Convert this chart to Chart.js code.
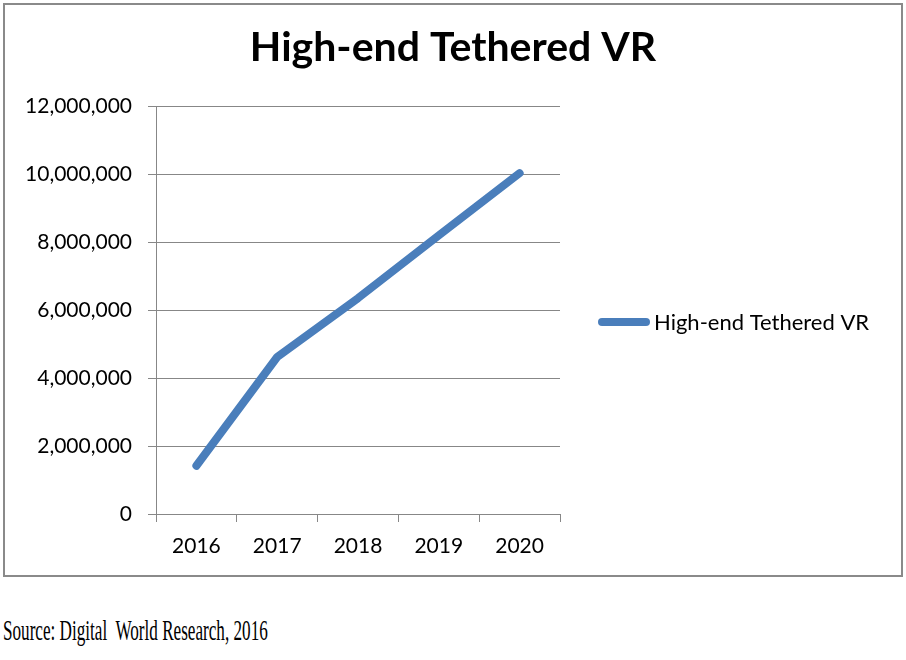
<!DOCTYPE html>
<html>
<head>
    <title>High-end Tethered VR</title>
    <meta charset="utf-8">
    <script src="https://cdn.jsdelivr.net/npm/chart.js@4.4.0/dist/chart.umd.min.js"></script>
    <style>
        body { margin: 0; background: #fff; width: 906px; height: 660px; position: relative; overflow: hidden; }
        #box { position: absolute; left: 3px; top: 3px; width: 896px; height: 570px; border: 2px solid #8a8a8a; }
        #source { position: absolute; left: 3px; top: 613px; font-family: "Liberation Serif", serif; font-size: 30px;
                  white-space: pre; transform-origin: 0 0; color: #000; }
    </style>
</head>
<body>

<div id="box"><canvas id="myChart" width="896" height="570"></canvas></div>
<div id="source">Source: Digital  World Research, 2016</div>

<script>
// data
const years = ['2016', '2017', '2018', '2019', '2020'];
const units = [1420000, 4620000, 6350000, 8200000, 10030000];
const seriesName = 'High-end Tethered VR';

const gray = '#878787';
const blue = '#4a7ebb';
const labelFont = { family: 'Lato', size: 21 };

// the built-in legend can't be wider than a quarter of the chart, so draw the single entry here
const sideLegend = {
    id: 'sideLegend',
    afterDraw(chart) {
        const ds = chart.data.datasets[0];
        const c = chart.ctx;
        const x = chart.chartArea.right + 42;
        const y = (chart.chartArea.top + chart.chartArea.bottom) / 2 + 12;
        c.save();
        c.strokeStyle = ds.borderColor;
        c.lineWidth = ds.borderWidth;
        c.lineCap = 'round';
        c.beginPath();
        c.moveTo(x, y);
        c.lineTo(x + 44, y);
        c.stroke();
        c.fillStyle = '#000';
        c.font = '22px ' + labelFont.family;
        c.textBaseline = 'middle';
        c.fillText(ds.label, x + 52, y + 1);
        c.restore();
    }
};

let ctx = document.getElementById('myChart').getContext('2d');
let myChart = new Chart(ctx, {
    type: 'line',
    data: {
        labels: years,
        datasets: [{
            label: seriesName,
            data: units,
            borderColor: blue,
            backgroundColor: blue,
            borderWidth: 8,
            borderCapStyle: 'round',
            borderJoinStyle: 'round',
            pointRadius: 0,
            tension: 0
        }]
    },
    options: {
        responsive: false,
        animation: false,
        layout: { padding: 0 },
        plugins: {
            title: {
                display: true,
                text: seriesName,
                color: '#000',
                font: { family: 'Lato', size: 41, weight: 'bold', lineHeight: 1.2 },
                padding: { top: 18, bottom: 34 }
            },
            legend: { display: false },
            tooltip: { enabled: false }
        },
        scales: {
            x: {
                offset: true,
                afterFit: function(scale) { scale.height = 61; },
                grid: { offset: true, drawOnChartArea: false, drawTicks: true, tickLength: 8, color: gray },
                border: { color: gray },
                ticks: { padding: 12, color: '#000', font: labelFont }
            },
            y: {
                min: 0,
                max: 12000000,
                afterFit: function(scale) { scale.width = 151; },
                grid: { color: gray, tickLength: 8 },
                border: { color: gray },
                ticks: {
                    stepSize: 2000000,
                    padding: 16,
                    color: '#000',
                    font: labelFont,
                    callback: function(v) { return v.toLocaleString('en-US'); }
                }
            },
            // empty right-hand axis: only reserves the room the legend sits in
            legendSpace: {
                position: 'right',
                min: 0,
                max: 1,
                afterFit: function(scale) { scale.width = 341; },
                grid: { display: false },
                border: { display: false },
                ticks: { display: false }
            }
        }
    },
    plugins: [sideLegend]
});

// squeeze the source line to the width it has in the picture
const src = document.getElementById('source');
src.style.transform = 'scaleX(' + (265 / src.offsetWidth) + ')';
</script>

</body>
</html>
